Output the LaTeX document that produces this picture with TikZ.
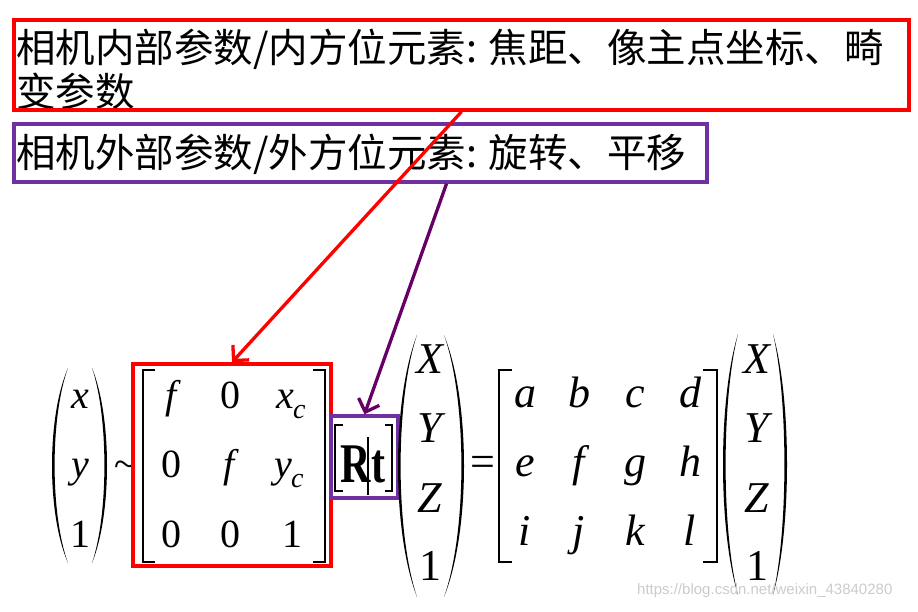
\documentclass[tikz,border=0pt]{standalone}
\usepackage{fontspec}
\usepackage{graphicx}
\setmainfont{Liberation Serif}
\newfontfamily\cjkfont{Noto Sans CJK SC}
\newfontfamily\wmfont{Liberation Sans}
\usetikzlibrary{arrows.meta}

\definecolor{boxred}{RGB}{255,0,0}
\definecolor{boxpurple}{RGB}{112,48,160}
\definecolor{arrowpurple}{RGB}{102,0,102}

% #1 end x, #2 middle x, #3 top, #4 bottom, #5 thickness
\newcommand{\drawparen}[5]{%
  \fill ({#1},{#3}) .. controls ({#1+(#2-#1)/0.75},{#3+0.25*(#4-#3)}) and ({#1+(#2-#1)/0.75},{#4-0.25*(#4-#3)}) .. ({#1},{#4})
    .. controls ({#1+(#2+(#5)-#1)/0.75},{#4-0.25*(#4-#3)}) and ({#1+(#2+(#5)-#1)/0.75},{#3+0.25*(#4-#3)}) .. cycle;}
\newcommand{\subc}[1]{\kern-1pt\raisebox{-10pt}{\fontsize{28}{28}\selectfont\itshape #1}}

\tikzset{
  cjktext/.style={anchor=base west, inner sep=0pt, font=\cjkfont\fontsize{39.5}{44}\selectfont},
  redframe/.style={draw=boxred, line width=3.5pt, inner sep=0pt},
  purpleframe/.style={draw=boxpurple, line width=3.5pt, inner sep=0pt},
  entry/.style={anchor=base, inner sep=0pt, font=\fontsize{40}{40}\selectfont},
  bigentry/.style={anchor=base, inner sep=0pt, font=\fontsize{44}{44}\selectfont},
  bracket/.style={line width=1.8pt},
  redarrow/.style={draw=boxred, line width=3.3pt, -{Straight Barb[length=11pt, width=22pt]}},
  purplearrow/.style={draw=arrowpurple, line width=3.3pt, -{Straight Barb[length=11pt, width=22pt]}}
}

\begin{document}
\begin{tikzpicture}[x=1pt, y=-1pt]
	\fill[white] (0,0) rectangle (918,612);
	\useasboundingbox (0,0) rectangle (918,612);

	% labels
	\node[cjktext] (inline1) at (16,63) {相机内部参数/内方位元素: 焦距、像主点坐标、畸};
	\node[cjktext] (inline2) at (16,107) {变参数};
	\node[cjktext] (exline) at (16,168) {相机外部参数/外方位元素: 旋转、平移};
	\node[redframe, minimum width=895pt, minimum height=90pt] (inbox) at (461.5,65) {};
	\node[purpleframe, minimum width=693pt, minimum height=58pt] (exbox) at (360.5,153) {};

	% (x y 1)
	\drawparen{68}{52}{368}{563}{2.6}
	\drawparen{92}{107}{368}{563}{-2.6}
	\foreach \t/\y [count=\i] in {{\itshape x}/408, {\itshape y}/477, 1/547}
		\node[entry] (v\i) at (80,\y) {\t};
	\node[entry] (sim) at (125,477) {\textasciitilde};

	% intrinsic matrix
	\draw[bracket] (155,370) -| (143,562) -- (155,562);
	\draw[bracket] (313,370) -| (325,562) -- (313,562);
	\foreach \t/\x/\y [count=\i] in {{\itshape f}/171/408, 0/230/408, {\itshape x\subc{c}}/291/408,
		0/171/477, {\itshape f}/229/477, {\itshape y\subc{c}}/289/477,
		0/171/547, 0/230/547, 1/292/547}
		\node[entry] (k\i) at (\x,\y) {\t};
	\node[redframe, minimum width=198pt, minimum height=202pt] (intrbox) at (232,465) {};

	% [R|t]
	\draw[bracket, line width=2.4pt] (343,425) -| (335,491) -- (343,491);
	\draw[bracket, line width=2.4pt] (385,425) -| (392,491) -- (385,491);
	\node[anchor=base, inner sep=0pt] (rt) at (363,482) {\scalebox{0.75}[1]{\fontsize{56}{56}\selectfont\bfseries Rt}};
	\draw[line width=1.2pt] (368,437) -- (368,495);
	\node[purpleframe, minimum width=67pt, minimum height=82pt] (rtbox) at (364.5,457) {};

	% (X Y Z 1) = [a..l] (X Y Z 1)
	\drawparen{417}{398}{335}{597}{2.6}
	\drawparen{444}{464}{335}{597}{-2.6}
	\drawparen{738}{723}{334}{595}{2.6}
	\drawparen{773}{787}{334}{595}{-2.6}
	\foreach \t/\y [count=\i] in {{\itshape X}/373, {\itshape Y}/442, {\itshape Z}/512, 1/580} {
		\node[bigentry] (p\i) at (430,\y) {\t};
		\node[bigentry] (q\i) at (757,\y) {\t};
	}
	\node[bigentry] (eq) at (483,476) {=};
	\draw[bracket] (512,370) -| (499,562) -- (512,562);
	\draw[bracket] (703,370) -| (717,562) -- (703,562);
	\foreach \y/\la/\lb/\lc/\ld [count=\r] in {407/a/b/c/d, 476/e/f/g/h, 545/i/j/k/l} {
		\node[bigentry] (g\r a) at (525,\y) {\itshape\la};
		\node[bigentry] (g\r b) at (579,\y) {\itshape\lb};
		\node[bigentry] (g\r c) at (635,\y) {\itshape\lc};
		\node[bigentry] (g\r d) at (690,\y) {\itshape\ld};
	}

	% arrows
	\draw[redarrow] (inbox.south) -- (intrbox.north);
	\draw[purplearrow] ([xshift=86pt]exbox.south) -- (rtbox.north);

	\node[anchor=base west, inner sep=0pt, text=gray!40, font=\wmfont\fontsize{15}{15}\selectfont] (mark) at (637,594) {https://blog.csdn.net/weixin\_43840280};
\end{tikzpicture}
\end{document}
